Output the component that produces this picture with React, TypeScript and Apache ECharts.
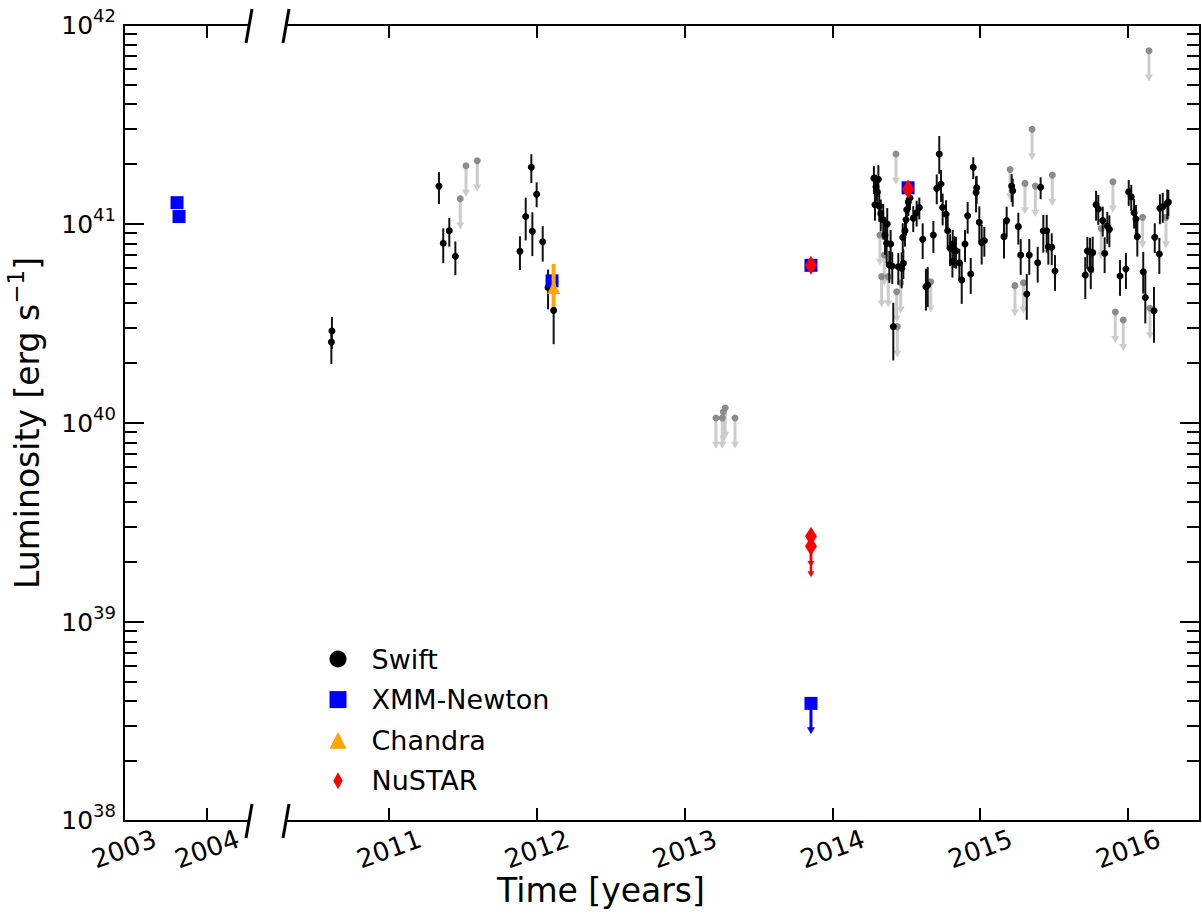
import React, { useEffect, useRef } from "react";
import * as echarts from "echarts";

const FONT = "DejaVu Sans";

// ---------- tick positions / labels ----------
const LEFT_YEAR_TICKS = [2003, 2004];
const RIGHT_YEAR_TICKS = [2011, 2012, 2013, 2014, 2015, 2016];
const LUM_DECADES = [1e38, 1e39, 1e40, 1e41, 1e42];
const MINOR_MULTIPLIERS = [2, 3, 4, 5, 6, 7, 8, 9];

// ---------- data ----------
// Swift detections: [year, luminosity, error down (dex), error up (dex)]
const SWIFT: number[][] = [
  [2010.614, 2.9e40, 0.09, 0.07],
  [2010.61, 2.55e40, 0.11, 0.06],
  [2011.338, 1.55e41, 0.09, 0.07],
  [2011.367, 8.0e40, 0.1, 0.075],
  [2011.408, 9.25e40, 0.08, 0.065],
  [2011.449, 6.88e40, 0.095, 0.075],
  [2011.886, 7.3e40, 0.095, 0.075],
  [2011.925, 1.09e41, 0.12, 0.095],
  [2011.963, 1.93e41, 0.08, 0.065],
  [2011.97, 9.2e40, 0.125, 0.095],
  [2011.999, 1.41e41, 0.065, 0.06],
  [2012.04, 8.15e40, 0.1, 0.078],
  [2012.076, 4.8e40, 0.11, 0.09],
  [2012.114, 3.68e40, 0.17, 0.1],
  [2014.281, 1.7e41, 0.08, 0.06],
  [2014.311, 1.68e41, 0.09, 0.07],
  [2014.295, 1.54e41, 0.07, 0.06],
  [2014.304, 1.45e41, 0.08, 0.07],
  [2014.288, 1.25e41, 0.08, 0.07],
  [2014.317, 1.23e41, 0.08, 0.07],
  [2014.327, 1.13e41, 0.09, 0.07],
  [2014.344, 1.05e41, 0.1, 0.08],
  [2014.371, 1.0e41, 0.09, 0.08],
  [2014.356, 8.81e40, 0.1, 0.08],
  [2014.367, 8.0e40, 0.1, 0.08],
  [2014.394, 7.94e40, 0.09, 0.07],
  [2014.385, 6.23e40, 0.09, 0.07],
  [2014.405, 6.15e40, 0.09, 0.07],
  [2014.412, 3.05e40, 0.17, 0.12],
  [2014.446, 6.1e40, 0.09, 0.07],
  [2014.469, 5.99e40, 0.1, 0.08],
  [2014.48, 6.35e40, 0.08, 0.07],
  [2014.476, 8.58e40, 0.08, 0.07],
  [2014.491, 9.25e40, 0.08, 0.06],
  [2014.498, 1.05e41, 0.08, 0.06],
  [2014.503, 1.18e41, 0.07, 0.06],
  [2014.514, 1.29e41, 0.07, 0.06],
  [2014.525, 1.35e41, 0.06, 0.05],
  [2014.547, 1.07e41, 0.07, 0.06],
  [2014.57, 1.14e41, 0.07, 0.06],
  [2014.588, 1.21e41, 0.06, 0.05],
  [2014.611, 8.38e40, 0.1, 0.08],
  [2014.633, 4.84e40, 0.12, 0.09],
  [2014.645, 4.94e40, 0.11, 0.09],
  [2014.683, 8.81e40, 0.09, 0.07],
  [2014.723, 2.25e41, 0.1, 0.09],
  [2014.706, 1.51e41, 0.08, 0.07],
  [2014.735, 1.59e41, 0.09, 0.07],
  [2014.746, 1.21e41, 0.09, 0.07],
  [2014.769, 1.12e41, 0.09, 0.07],
  [2014.78, 9.25e40, 0.09, 0.07],
  [2014.796, 7.55e40, 0.09, 0.07],
  [2014.812, 6.47e40, 0.08, 0.07],
  [2014.814, 7.94e40, 0.09, 0.07],
  [2014.825, 7.4e40, 0.09, 0.07],
  [2014.836, 7.34e40, 0.09, 0.07],
  [2014.859, 6.39e40, 0.09, 0.07],
  [2014.875, 5.23e40, 0.12, 0.09],
  [2014.897, 7.94e40, 0.09, 0.07],
  [2014.915, 1.1e41, 0.09, 0.07],
  [2014.936, 5.61e40, 0.1, 0.08],
  [2014.953, 1.93e41, 0.06, 0.05],
  [2014.972, 1.44e41, 0.1, 0.08],
  [2014.976, 1.52e41, 0.08, 0.06],
  [2014.994, 1.02e41, 0.1, 0.08],
  [2015.01, 8.06e40, 0.11, 0.09],
  [2015.028, 8.24e40, 0.08, 0.07],
  [2015.161, 8.64e40, 0.11, 0.09],
  [2015.179, 1.04e41, 0.08, 0.07],
  [2015.213, 1.55e41, 0.08, 0.06],
  [2015.22, 1.47e41, 0.08, 0.06],
  [2015.258, 9.7e40, 0.09, 0.07],
  [2015.274, 6.99e40, 0.1, 0.08],
  [2015.315, 4.45e40, 0.13, 0.1],
  [2015.332, 6.99e40, 0.1, 0.08],
  [2015.389, 6.39e40, 0.1, 0.08],
  [2015.409, 1.53e41, 0.06, 0.05],
  [2015.427, 9.25e40, 0.11, 0.08],
  [2015.45, 9.25e40, 0.11, 0.08],
  [2015.461, 7.69e40, 0.09, 0.07],
  [2015.484, 7.64e40, 0.09, 0.07],
  [2015.506, 5.8e40, 0.1, 0.08],
  [2015.711, 5.54e40, 0.12, 0.09],
  [2015.725, 7.32e40, 0.09, 0.07],
  [2015.743, 7.26e40, 0.09, 0.07],
  [2015.748, 5.92e40, 0.1, 0.08],
  [2015.761, 7.18e40, 0.1, 0.08],
  [2015.784, 1.25e41, 0.08, 0.07],
  [2015.799, 1.19e41, 0.08, 0.07],
  [2015.829, 1.04e41, 0.08, 0.07],
  [2015.842, 7.13e40, 0.1, 0.08],
  [2015.86, 9.78e40, 0.09, 0.07],
  [2015.874, 9.4e40, 0.09, 0.07],
  [2015.946, 5.48e40, 0.1, 0.08],
  [2015.986, 5.94e40, 0.1, 0.08],
  [2016.005, 1.45e41, 0.07, 0.06],
  [2016.022, 1.37e41, 0.07, 0.06],
  [2016.041, 1.14e41, 0.08, 0.07],
  [2016.054, 1.06e41, 0.09, 0.07],
  [2016.063, 8.64e40, 0.1, 0.08],
  [2016.103, 5.76e40, 0.11, 0.1],
  [2016.117, 4.27e40, 0.13, 0.13],
  [2016.176, 3.66e40, 0.16, 0.12],
  [2016.181, 8.58e40, 0.08, 0.07],
  [2016.212, 7.07e40, 0.1, 0.08],
  [2016.216, 1.2e41, 0.08, 0.07],
  [2016.235, 1.22e41, 0.08, 0.07],
  [2016.266, 1.27e41, 0.08, 0.07],
  [2016.273, 1.29e41, 0.07, 0.06],
];

// Swift upper limits: [year, luminosity]
const SWIFT_LIMITS: number[][] = [
  [2011.482, 1.34e41],
  [2011.521, 1.96e41],
  [2011.597, 2.08e41],
  [2013.212, 1.06e40],
  [2013.255, 1.06e40],
  [2013.262, 1.14e40],
  [2013.275, 1.19e40],
  [2013.341, 1.06e40],
  [2014.322, 8.81e40],
  [2014.333, 5.44e40],
  [2014.351, 6.99e40],
  [2014.378, 5.44e40],
  [2014.43, 2.25e41],
  [2014.435, 4.57e40],
  [2014.439, 3.05e40],
  [2014.462, 5.07e40],
  [2014.665, 5.13e40],
  [2015.202, 1.88e41],
  [2015.235, 4.9e40],
  [2015.292, 5.07e40],
  [2015.303, 1.6e41],
  [2015.351, 2.99e41],
  [2015.373, 1.55e41],
  [2015.488, 1.76e41],
  [2015.819, 9.5e40],
  [2015.898, 1.63e41],
  [2015.914, 3.61e40],
  [2015.968, 3.29e40],
  [2016.099, 1.08e41],
  [2016.142, 7.43e41],
  [2016.149, 3.77e40],
  [2016.257, 1.08e41],
];

const XMM_2003: number[][] = [
  [2003.639, 1.28e41],
  [2003.663, 1.09e41],
];
const XMM: number[][] = [
  [2012.103, 5.18e40],
  [2013.855, 6.2e40],
  [2014.512, 1.52e41],
];
const XMM_LIMITS: number[][] = [[2013.855, 3.9e38]];
// [year, luminosity, lower bound, upper bound]
const CHANDRA: number[][] = [[2012.114, 4.8e40, 3.83e40, 6.3e40]];
const NUSTAR: number[][] = [
  [2013.855, 6.2e40],
  [2014.512, 1.5e41],
];
const NUSTAR_LIMITS: number[][] = [
  [2013.855, 2.7e39],
  [2013.855, 2.4e39],
];
const LIMIT_FRACTION = 0.7; // upper-limit arrows reach 0.7 x value

// ---------- layout ----------
const GRID_TOP = 25;
const GRID_H = 796;
const G0_LEFT = 124;
const G0_W = 125;
const G1_LEFT = 286;
const G1_W = 914;
const X0_MIN = 2003;
const X0_MAX = 2003 + G0_W / 83;
const X1_MIN = 2011 - (389 - G1_LEFT) / 147.8;
const X1_MAX = 2016 + (G1_LEFT + G1_W - 1128) / 147.8;
const Y_MIN = 1e38;
const Y_MAX = 1e42;

const BLACK = "#000000";
const LINE = { color: BLACK, width: 2 };
const DIAMOND = "path://M5,0L10,9L5,18L0,9Z";

// keep tick values safely inside the log extent (floating point of 10^42)
const inside = (v: number) => Math.min(Math.max(v, Y_MIN * 1.000001), Y_MAX * 0.999999);

function xAxis(gridIndex: number, min: number, max: number, ticks: number[], position: string, labels: boolean) {
  return {
    type: "value",
    gridIndex,
    min,
    max,
    position,
    axisLine: { show: true, onZero: false, lineStyle: LINE },
    axisTick: { show: true, inside: true, length: 13, customValues: ticks, lineStyle: LINE },
    axisLabel: {
      show: labels,
      customValues: ticks,
      rotate: 20,
      align: "center",
      verticalAlign: "middle",
      margin: 28,
      fontFamily: FONT,
      fontSize: 26,
      color: BLACK,
      formatter: (v: number) => String(Math.round(v)),
    },
    splitLine: { show: false },
  };
}

function yMajor(gridIndex: number, position: string, labels: boolean, withName: boolean) {
  const vals = LUM_DECADES.map(inside);
  const ax: any = {
    type: "log",
    logBase: 10,
    gridIndex,
    min: Y_MIN,
    max: Y_MAX,
    position,
    axisLine: { show: true, onZero: false, lineStyle: LINE },
    axisTick: { show: true, inside: true, length: 20, customValues: vals, lineStyle: LINE },
    axisLabel: {
      show: labels,
      customValues: vals,
      margin: 8,
      color: BLACK,
      formatter: (v: number) => `{b|10}{s|${Math.round(Math.log10(v))}}`,
      rich: {
        b: { fontFamily: FONT, fontSize: 25, lineHeight: 38, color: BLACK },
        s: { fontFamily: FONT, fontSize: 18, verticalAlign: "top", color: BLACK },
      },
    },
    splitLine: { show: false },
    minorTick: { show: false },
  };
  if (withName) {
    ax.name = "Luminosity [erg s{s|\u22121}]";
    ax.nameLocation = "middle";
    ax.nameRotate = 90;
    ax.nameGap = 74;
    ax.nameTextStyle = {
      fontFamily: FONT,
      fontSize: 33,
      color: BLACK,
      lineHeight: 46,
      rich: { s: { fontFamily: FONT, fontSize: 23, verticalAlign: "top", color: BLACK } },
    };
  }
  return ax;
}

function yMinor(gridIndex: number, position: string, minorValues: number[]) {
  return {
    type: "log",
    logBase: 10,
    gridIndex,
    min: Y_MIN,
    max: Y_MAX,
    position,
    axisLine: { show: false },
    axisTick: { show: true, inside: true, length: 13, customValues: minorValues, lineStyle: LINE },
    axisLabel: { show: false },
    splitLine: { show: false },
  };
}

const dexBarItem = (color: string, width: number) => (params: any, api: any) => {
  const x = api.value(0);
  const y = api.value(1);
  const p1 = api.coord([x, y / Math.pow(10, api.value(2))]);
  const p2 = api.coord([x, y * Math.pow(10, api.value(3))]);
  return { type: "line", shape: { x1: p1[0], y1: p1[1], x2: p2[0], y2: p2[1] }, style: { stroke: color, lineWidth: width } };
};

const boundBarItem = (color: string, width: number) => (params: any, api: any) => {
  const x = api.value(0);
  const p1 = api.coord([x, api.value(2)]);
  const p2 = api.coord([x, api.value(3)]);
  return { type: "line", shape: { x1: p1[0], y1: p1[1], x2: p2[0], y2: p2[1] }, style: { stroke: color, lineWidth: width } };
};

const arrowItem = (color: string, lw: number, hw: number, hh: number) => (params: any, api: any) => {
  const x = api.value(0);
  const y = api.value(1);
  const p1 = api.coord([x, y]);
  const p2 = api.coord([x, y * LIMIT_FRACTION]);
  return {
    type: "group",
    children: [
      { type: "line", shape: { x1: p1[0], y1: p1[1], x2: p2[0], y2: p2[1] - hh + 1 }, style: { stroke: color, lineWidth: lw } },
      {
        type: "polygon",
        shape: { points: [[p2[0] - hw / 2, p2[1] - hh], [p2[0] + hw / 2, p2[1] - hh], [p2[0], p2[1]]] },
        style: { fill: color },
      },
    ],
  };
};

export default function App() {
  const ref = useRef<HTMLDivElement>(null);
  useEffect(() => {
    if (!ref.current) return;
    const chart = echarts.init(ref.current, undefined, { renderer: "svg" });
    const minorValues: number[] = [];
    LUM_DECADES.slice(0, -1).forEach((d) => MINOR_MULTIPLIERS.forEach((m) => minorValues.push(d * m)));

    const R = { xAxisIndex: 2, yAxisIndex: 2 };
    const option: any = {
      animation: false,
      backgroundColor: "#ffffff",
      grid: [
        { left: G0_LEFT, top: GRID_TOP, width: G0_W, height: GRID_H },
        { left: G1_LEFT, top: GRID_TOP, width: G1_W, height: GRID_H },
      ],
      xAxis: [
        xAxis(0, X0_MIN, X0_MAX, LEFT_YEAR_TICKS, "bottom", true),
        xAxis(0, X0_MIN, X0_MAX, LEFT_YEAR_TICKS, "top", false),
        xAxis(1, X1_MIN, X1_MAX, RIGHT_YEAR_TICKS, "bottom", true),
        xAxis(1, X1_MIN, X1_MAX, RIGHT_YEAR_TICKS, "top", false),
      ],
      yAxis: [
        yMajor(0, "left", true, true),
        yMinor(0, "left", minorValues),
        yMajor(1, "right", false, false),
        yMinor(1, "right", minorValues),
      ],
      legend: {
        data: ["Swift", "XMM-Newton", "Chandra", "NuSTAR"],
        orient: "vertical",
        left: 329.5,
        top: 644,
        padding: 0,
        itemWidth: 17,
        itemHeight: 17,
        itemGap: 10.6,
        selectedMode: false,
        itemStyle: { opacity: 1 },
        textStyle: { fontFamily: FONT, fontSize: 27, color: BLACK, lineHeight: 30, padding: [0, 0, 0, 20] },
      },
      graphic: [
        { type: "line", shape: { x1: 252, y1: 9, x2: 246, y2: 43 }, style: { stroke: BLACK, lineWidth: 3 } },
        { type: "line", shape: { x1: 289, y1: 9, x2: 283, y2: 43 }, style: { stroke: BLACK, lineWidth: 3 } },
        { type: "line", shape: { x1: 252, y1: 804, x2: 246, y2: 838 }, style: { stroke: BLACK, lineWidth: 3 } },
        { type: "line", shape: { x1: 289, y1: 804, x2: 283, y2: 838 }, style: { stroke: BLACK, lineWidth: 3 } },
        {
          type: "text",
          x: 601,
          y: 890,
          style: { text: "Time [years]", fontFamily: FONT, fontSize: 33, fill: BLACK, align: "center", verticalAlign: "middle" },
        },
      ],
      series: [
        {
          type: "custom",
          name: "Swift limits",
          ...R,
          renderItem: arrowItem("#cccccc", 3, 8, 7),
          data: SWIFT_LIMITS,
          z: 1,
        },
        {
          type: "scatter",
          name: "Swift limits",
          ...R,
          symbol: "circle",
          symbolSize: 7,
          itemStyle: { color: "#8c8c8c", opacity: 1 },
          data: SWIFT_LIMITS,
          z: 2,
        },
        {
          type: "custom",
          name: "Swift errors",
          ...R,
          renderItem: dexBarItem("#111111", 2),
          data: SWIFT,
          z: 3,
        },
        {
          type: "scatter",
          name: "Swift",
          ...R,
          symbol: "circle",
          symbolSize: 7,
          itemStyle: { color: BLACK, opacity: 1 },
          data: SWIFT.map((d) => [d[0], d[1]]),
          z: 4,
        },
        {
          type: "custom",
          name: "XMM limits",
          ...R,
          renderItem: arrowItem("#0000ff", 3, 8, 7),
          data: XMM_LIMITS,
          z: 5,
        },
        {
          type: "scatter",
          name: "XMM-Newton",
          xAxisIndex: 0,
          yAxisIndex: 0,
          symbol: "rect",
          symbolSize: 13,
          itemStyle: { color: "#0000ff", opacity: 1 },
          data: XMM_2003,
          z: 6,
        },
        {
          type: "scatter",
          name: "XMM-Newton",
          ...R,
          symbol: "rect",
          symbolSize: 13,
          itemStyle: { color: "#0000ff", opacity: 1 },
          data: [...XMM, ...XMM_LIMITS],
          z: 6,
        },
        {
          type: "custom",
          name: "Chandra errors",
          ...R,
          renderItem: boundBarItem("#ffa500", 4),
          data: CHANDRA,
          z: 7,
        },
        {
          type: "scatter",
          name: "Chandra",
          ...R,
          symbol: "triangle",
          symbolSize: 13,
          itemStyle: { color: "#ffa500", opacity: 1 },
          data: CHANDRA.map((d) => [d[0], d[1]]),
          z: 8,
        },
        {
          type: "custom",
          name: "NuSTAR limits",
          ...R,
          renderItem: arrowItem("#ff0000", 2.5, 7, 6),
          data: NUSTAR_LIMITS,
          z: 9,
        },
        {
          type: "scatter",
          name: "NuSTAR",
          ...R,
          symbol: DIAMOND,
          symbolSize: [12, 19],
          itemStyle: { color: "#ff0000", opacity: 1 },
          data: [...NUSTAR, ...NUSTAR_LIMITS],
          z: 10,
        },
      ],
    };
    chart.setOption(option);
    return () => chart.dispose();
  }, []);
  return <div ref={ref} style={{ position: "absolute", left: 0, top: 0, width: 1202, height: 914, background: "#fff" }} />;
}
